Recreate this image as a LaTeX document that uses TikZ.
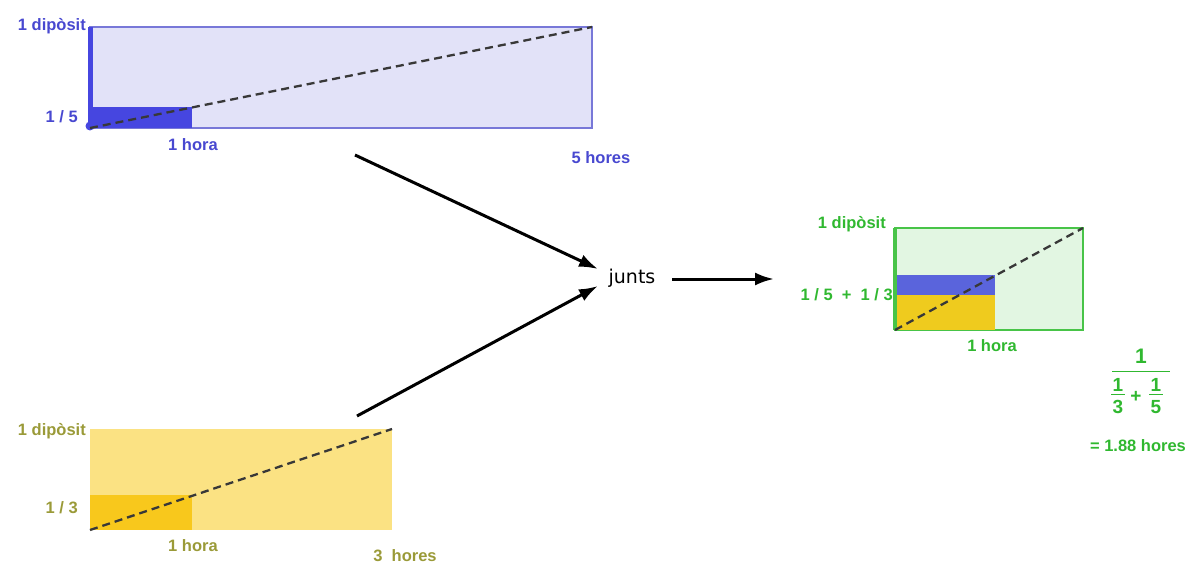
\documentclass[tikz,border=0pt]{standalone}
\usepackage{fontspec}
\setmainfont{Liberation Sans}
\newfontfamily\juntsfont{DejaVu Sans}
\usetikzlibrary{arrows.meta}
\definecolor{bltext}{HTML}{4848D0}
\definecolor{blfill}{HTML}{E2E2F8}
\definecolor{blline}{HTML}{7878D8}
\definecolor{bldark}{HTML}{4646E0}
\definecolor{yetext}{HTML}{9A9A38}
\definecolor{yefill}{HTML}{FBE283}
\definecolor{yedark}{HTML}{F8C81C}
\definecolor{grtext}{HTML}{30B830}
\definecolor{grfill}{HTML}{E2F6E2}
\definecolor{grline}{HTML}{48C448}
\definecolor{grblue}{HTML}{5A64DC}
\definecolor{gryel}{HTML}{EFCB1E}
\tikzset{
  lbl/.style={font=\bfseries\fontsize{16.5}{19}\selectfont, inner sep=0pt},
  fracd/.style={lbl, text=grtext, font=\bfseries\fontsize{19}{21}\selectfont},
  dashln/.style={dash pattern=on 8pt off 5pt, line width=2.3pt, black!78},
  conn/.style={-{Latex[length=19pt,width=13pt]}, line width=3pt, black},
}
\begin{document}
\begin{tikzpicture}[x=1pt,y=-1pt]
\useasboundingbox (0,0) rectangle (1192,567);
% ---- blue tank
\fill[blfill] (90,27) rectangle (592,128);
\draw[blline, line width=1.4pt] (90,27) rectangle (592,128);
\fill[bldark] (90,107) rectangle (192,128);
\draw[bldark, line width=5pt] (90,27) -- (90,128);
\fill[bldark] (90,107) rectangle (96,128);
\fill[bldark] (90,126) circle (4.5pt);
\draw[dashln] (90,128) -- (592,27);
\node[lbl, text=bltext, anchor=east] (b1) at (86,26) {1 dipòsit};
\node[lbl, text=bltext, anchor=east] (b2) at (78,117) {1 / 5};
\node[lbl, text=bltext] (b3) at (193,145) {1 hora};
\node[lbl, text=bltext] (b4) at (601,158) {5 hores};
% ---- yellow tank
\fill[yefill] (90,429) rectangle (392,530);
\fill[yedark] (90,495) rectangle (192,530);
\draw[dashln] (90,530) -- (392,429);
\node[lbl, text=yetext, anchor=east] (y1) at (86,431) {1 dipòsit};
\node[lbl, text=yetext, anchor=east] (y2) at (78,508) {1 / 3};
\node[lbl, text=yetext] (y3) at (193,546) {1 hora};
\node[lbl, text=yetext] (y4) at (405,556) {3\ \ hores};
% ---- green tank
\fill[grfill] (895,228) rectangle (1083,330);
\draw[grline, line width=1.4pt] (895,228) rectangle (1083,330);
\fill[grblue] (895,275) rectangle (995,295);
\fill[gryel] (895,295) rectangle (995,330);
\draw[grline, line width=4pt] (895,228) -- (895,330);
\draw[dashln] (895,330) -- (1083,228);
\node[lbl, text=grtext, anchor=east] (g1) at (886,224) {1 dipòsit};
\node[lbl, text=grtext, anchor=east] (g2) at (893,295) {1 / 5\ \ +\ \ 1 / 3};
\node[lbl, text=grtext] (g3) at (992,346) {1 hora};
% fraction
\node[lbl, text=grtext, font=\bfseries\fontsize{21}{24}\selectfont] (fn) at (1141,356) {1};
\draw[grtext, line width=1pt] (1112,371) -- (1170,371);
\node[fracd] (f1n) at (1118,385) {1};
\draw[grtext, line width=0.9pt] (1111,394) -- (1125,394);
\node[fracd] (f1d) at (1118,407) {3};
\node[fracd] (fp) at (1136,397) {+};
\node[fracd] (f2n) at (1156,385) {1};
\draw[grtext, line width=0.9pt] (1149,394) -- (1163,394);
\node[fracd] (f2d) at (1156,407) {5};
\node[lbl, text=grtext, font=\bfseries\fontsize{16.5}{19}\selectfont] (fr) at (1138,446) {= 1.88 hores};
% ---- junts and connectors
\node[inner sep=0pt, font=\juntsfont\fontsize{19}{22}\selectfont] (j) at (632,278) {junts};
\coordinate (bs) at (355,155);
\coordinate (ys) at (357,416);
\coordinate (je1) at (598,269);
\coordinate (je2) at (598,286);
\coordinate (js) at (672,279);
\coordinate (ge) at (774,279);
\draw[conn] (bs) -- (je1);
\draw[conn] (ys) -- (je2);
\draw[conn] (js) -- (ge);
\end{tikzpicture}
\end{document}
